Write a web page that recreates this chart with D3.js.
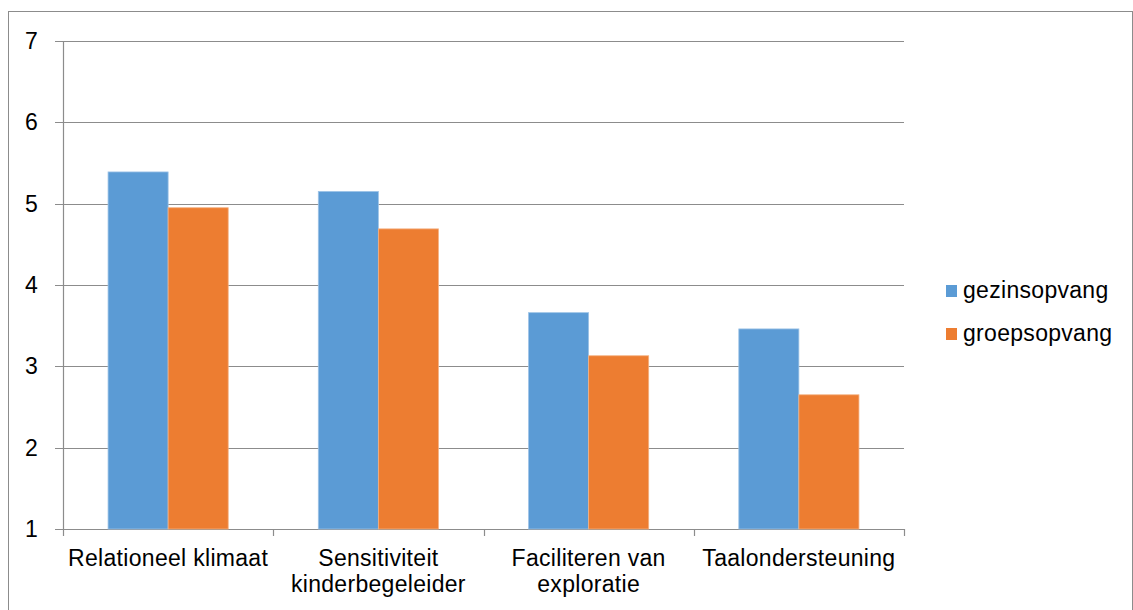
<!DOCTYPE html>
<meta charset="utf-8">
<style>
body { margin: 0; background: #fff; }
text { font-family: "Liberation Sans", Arial, sans-serif; font-size: 23px; fill: #000; letter-spacing: 0.3px; }
</style>
<svg width="1133" height="610"></svg>
<script src="https://d3js.org/d3.v7.min.js"></script>
<script>
// data
var categories = [["Relationeel klimaat"], ["Sensitiviteit", "kinderbegeleider"], ["Faciliteren van", "exploratie"], ["Taalondersteuning"]];
var seriesNames = ["gezinsopvang", "groepsopvang"];
var gezinsopvang = [5.39, 5.15, 3.66, 3.46];
var groepsopvang = [4.95, 4.69, 3.13, 2.65];
var yTicks = [1, 2, 3, 4, 5, 6, 7];
var colors = ["#5B9BD5", "#ED7D31"];
var strokes = ["#9DC3E6", "#F4B183"];

var svg = d3.select("svg");

// outer frame
svg.append("rect")
    .attr("x", 8.5).attr("y", 11.5)
    .attr("width", 1124).attr("height", 620)
    .attr("fill", "none").attr("stroke", "#8c8c8c");

var plotLeft = 63, plotRight = 904, plotTop = 41, plotBottom = 529;

var x = d3.scaleBand()
    .domain(d3.range(categories.length))
    .range([plotLeft, plotRight]);

var xs = d3.scaleBand()
    .domain(seriesNames)
    .range([0, x.bandwidth()])
    .paddingOuter(0.75);

var y = d3.scaleLinear()
    .domain([1, 7])
    .range([plotBottom, plotTop]);

// gridlines
svg.append("g").selectAll("line")
  .data(yTicks)
  .join("line")
    .attr("x1", plotLeft - 8).attr("x2", plotRight)
    .attr("y1", d => Math.round(y(d)) + 0.5).attr("y2", d => Math.round(y(d)) + 0.5)
    .attr("stroke", "#8c8c8c").attr("stroke-width", 1.2);

// y axis line
svg.append("line")
    .attr("x1", plotLeft + 0.5).attr("x2", plotLeft + 0.5)
    .attr("y1", plotTop).attr("y2", plotBottom)
    .attr("stroke", "#8c8c8c").attr("stroke-width", 1.2);

// y labels
svg.append("g").selectAll("text")
  .data(yTicks)
  .join("text")
    .attr("x", 38).attr("y", d => y(d) + 8)
    .attr("text-anchor", "end")
    .text(d => d);

// x ticks
svg.append("g").selectAll("line")
  .data(d3.range(categories.length + 1))
  .join("line")
    .attr("x1", d => Math.round(plotLeft + d * x.step()) + 0.5)
    .attr("x2", d => Math.round(plotLeft + d * x.step()) + 0.5)
    .attr("y1", plotBottom).attr("y2", plotBottom + 7)
    .attr("stroke", "#8c8c8c").attr("stroke-width", 1.2);

// bars
var data = [gezinsopvang, groepsopvang];
seriesNames.forEach(function (s, si) {
  svg.append("g").selectAll("rect")
    .data(data[si])
    .join("rect")
      .attr("x", (d, i) => x(i) + xs(s))
      .attr("y", d => y(d))
      .attr("width", xs.bandwidth())
      .attr("height", d => y(1) - y(d))
      .attr("fill", colors[si])
      .attr("stroke", strokes[si])
      .attr("stroke-width", 0.8);
});

// category labels
var lbl = svg.append("g").selectAll("text")
  .data(categories)
  .join("text")
    .attr("text-anchor", "middle")
    .attr("x", (d, i) => x(i) + x.bandwidth() / 2)
    .attr("y", 566);
lbl.selectAll("tspan")
  .data(d => d)
  .join("tspan")
    .attr("x", function () { return d3.select(this.parentNode).attr("x"); })
    .attr("dy", (d, i) => i === 0 ? 0 : 26)
    .text(d => d);

// legend
var legend = svg.append("g").selectAll("g")
  .data(seriesNames)
  .join("g")
    .attr("transform", (d, i) => "translate(946," + (285 + i * 43) + ")");
legend.append("rect")
    .attr("width", 11).attr("height", 12)
    .attr("fill", (d, i) => colors[i]);
legend.append("text")
    .attr("x", 17).attr("y", 13)
    .text(d => d);
</script>
